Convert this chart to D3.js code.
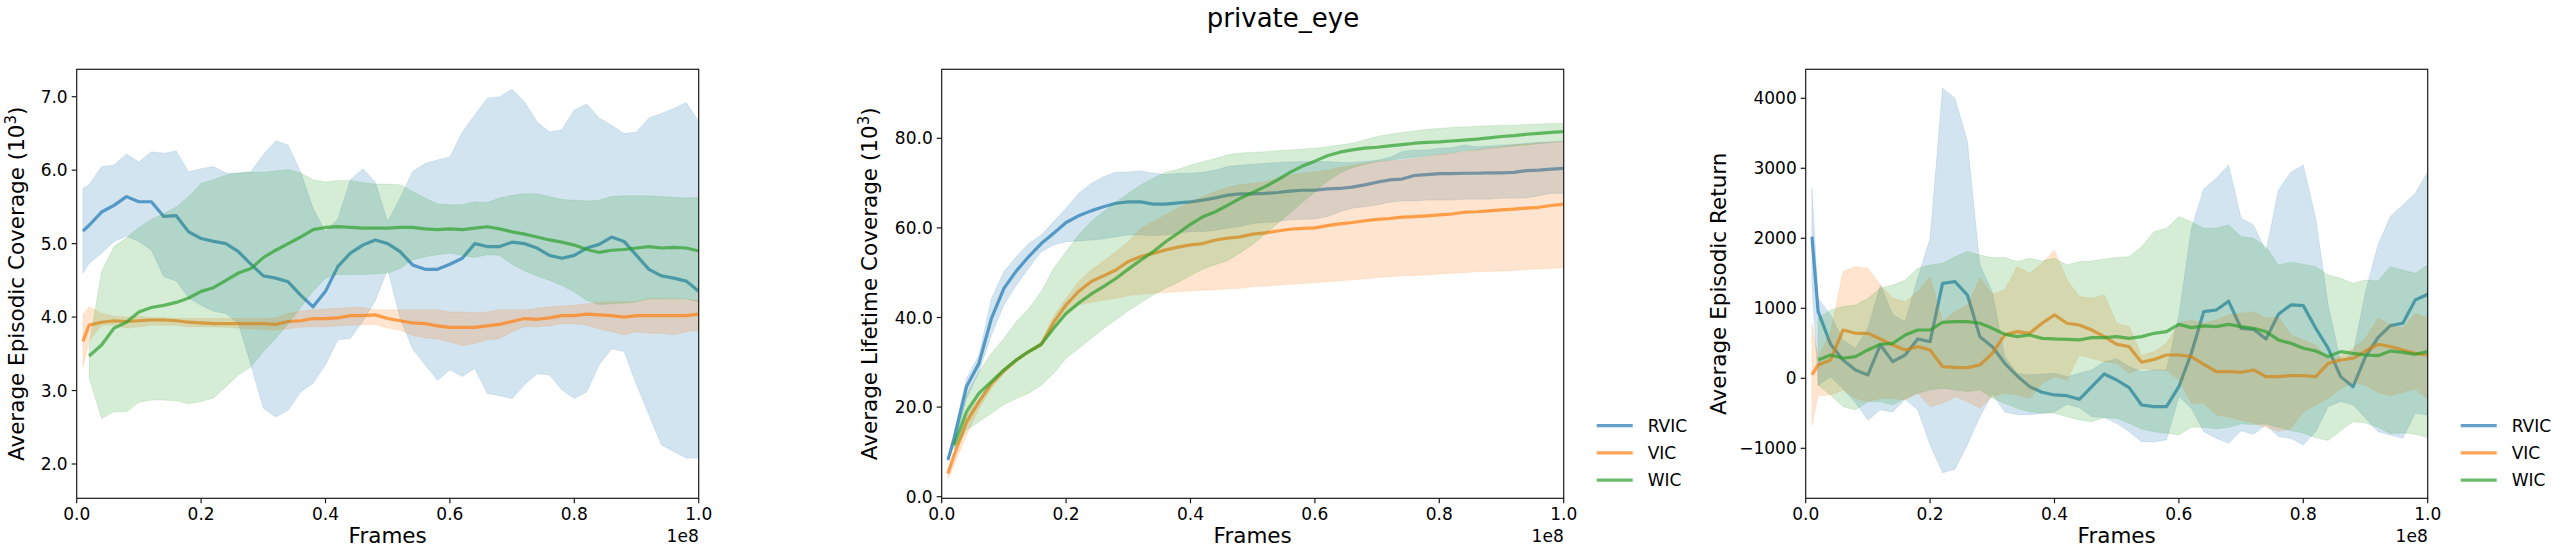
<!DOCTYPE html>
<html>
<head>
<meta charset="utf-8">
<script src="https://cdn.jsdelivr.net/npm/d3@7"></script>
<style>
  body { margin: 0; background: #fff; }
  text { font-family: "DejaVu Sans", sans-serif; fill: #000; }
</style>
</head>
<body>
<div id="chart"></div>
<script>
// frames, in units of 1e8
const frames = [0.01,0.02,0.04,0.06,0.08,0.10,0.12,0.14,0.16,0.18,0.20,0.22,0.24,0.26,0.28,0.30,0.32,0.34,0.36,0.38,
  0.40,0.42,0.44,0.46,0.48,0.50,0.52,0.54,0.56,0.58,0.60,0.62,0.64,0.66,0.68,0.70,0.72,0.74,0.76,0.78,
  0.80,0.82,0.84,0.86,0.88,0.90,0.92,0.94,0.96,0.98,1.00];

const algos = ["RVIC", "VIC", "WIC"];

// episodic coverage (10^3)
const epiRvic   = [5.17,5.25,5.43,5.52,5.64,5.57,5.57,5.37,5.38,5.16,5.07,5.03,5.00,4.89,4.72,4.56,4.53,4.48,4.30,4.14,4.35,4.69,4.87,4.98,5.05,5.00,4.89,4.71,4.65,4.65,4.72,4.80,5.00,4.96,4.96,5.02,5.00,4.94,4.84,4.80,4.84,4.94,4.99,5.09,5.03,4.84,4.65,4.56,4.53,4.49,4.35];
const epiRvicHi = [5.75,5.80,6.05,6.07,6.22,6.11,6.25,6.23,6.26,5.98,6.02,6.05,5.96,5.96,5.98,6.21,6.40,6.34,5.98,5.48,5.16,5.34,5.87,6.02,5.84,5.30,5.62,5.98,6.09,6.14,6.18,6.52,6.75,6.98,7.00,7.10,6.93,6.66,6.52,6.55,6.82,6.90,6.71,6.61,6.50,6.52,6.71,6.77,6.84,6.92,6.66];
const epiRvicLo = [4.60,4.73,4.87,5.03,5.10,5.03,4.91,4.55,4.49,4.26,4.16,4.08,4.05,3.91,3.35,2.76,2.64,2.73,2.98,3.10,3.35,3.69,3.71,3.94,4.22,4.65,3.98,3.57,3.35,3.14,3.28,3.19,3.30,2.96,2.93,2.89,3.08,3.23,3.21,3.01,2.89,2.98,3.35,3.57,3.53,3.08,2.67,2.26,2.17,2.08,2.08];
const epiVic    = [3.67,3.89,3.93,3.95,3.94,3.95,3.96,3.96,3.95,3.93,3.92,3.91,3.91,3.91,3.91,3.91,3.90,3.94,3.95,3.98,3.98,3.99,4.02,4.02,4.03,3.98,3.95,3.92,3.91,3.88,3.86,3.86,3.86,3.88,3.90,3.94,3.98,3.97,3.99,4.02,4.02,4.04,4.03,4.02,4.00,4.02,4.02,4.02,4.02,4.02,4.04];
const epiVicHi  = [4.04,4.14,4.05,4.01,4.00,4.01,3.99,3.99,3.98,3.98,3.98,3.98,3.98,3.98,3.98,3.98,3.99,4.05,4.08,4.10,4.11,4.12,4.13,4.13,4.10,4.10,4.10,4.10,4.10,4.10,4.07,4.07,4.06,4.07,4.10,4.10,4.10,4.12,4.14,4.15,4.16,4.18,4.20,4.21,4.21,4.21,4.25,4.25,4.25,4.24,4.23];
const epiVicLo  = [3.32,3.67,3.89,3.89,3.85,3.87,3.89,3.89,3.89,3.87,3.87,3.87,3.86,3.85,3.84,3.83,3.82,3.84,3.86,3.87,3.87,3.88,3.89,3.90,3.90,3.85,3.82,3.75,3.72,3.70,3.66,3.61,3.64,3.69,3.71,3.80,3.87,3.87,3.88,3.91,3.91,3.89,3.84,3.80,3.76,3.80,3.78,3.78,3.76,3.80,3.82];
const epiWic    = [null,3.47,3.62,3.85,3.93,4.07,4.13,4.16,4.20,4.26,4.35,4.40,4.50,4.60,4.66,4.81,4.91,5.00,5.09,5.19,5.22,5.23,5.22,5.21,5.21,5.21,5.22,5.22,5.20,5.19,5.20,5.19,5.21,5.23,5.20,5.16,5.13,5.09,5.05,5.02,4.98,4.92,4.88,4.91,4.92,4.94,4.96,4.94,4.95,4.94,4.90];
const epiWicHi  = [null,3.62,4.62,4.96,5.08,5.22,5.33,5.41,5.50,5.64,5.82,5.87,5.93,5.96,5.97,5.97,5.99,6.01,5.96,5.87,5.84,5.86,5.86,5.83,5.81,5.81,5.80,5.71,5.62,5.54,5.53,5.53,5.57,5.56,5.62,5.66,5.68,5.68,5.64,5.60,5.59,5.58,5.59,5.64,5.65,5.65,5.65,5.64,5.63,5.62,5.63];
const epiWicLo  = [null,3.17,2.62,2.71,2.71,2.84,2.87,2.87,2.86,2.82,2.85,2.90,3.05,3.21,3.32,3.53,3.71,3.91,4.13,4.35,4.53,4.58,4.58,4.58,4.59,4.60,4.66,4.78,4.82,4.85,4.87,4.84,4.81,4.85,4.84,4.72,4.63,4.56,4.50,4.43,4.34,4.23,4.17,4.18,4.19,4.21,4.25,4.25,4.25,4.25,4.21];

// lifetime coverage (10^3)
const lifeRvic   = [8.2,13.0,24.6,29.8,39.8,46.5,50.4,53.6,56.5,58.8,61.2,62.7,63.8,64.7,65.5,65.8,65.8,65.3,65.3,65.6,65.8,66.2,66.7,67.3,67.6,67.6,67.7,67.9,68.2,68.4,68.4,68.7,68.8,69.1,69.6,70.2,70.7,70.9,71.7,71.9,72.1,72.1,72.2,72.2,72.3,72.3,72.4,72.8,72.9,73.1,73.3];
const lifeRvicHi = [8.5,14.5,26.4,31.6,44.3,50.2,53.6,56.5,58.4,61.4,64.4,67.7,69.9,71.4,72.4,72.5,72.7,72.2,71.9,72.2,72.2,72.4,72.9,73.7,74.0,74.2,74.4,74.6,74.7,74.8,74.8,74.8,74.6,74.6,74.8,75.1,75.7,77.0,77.4,77.4,77.8,77.9,78.5,78.1,78.3,78.5,78.6,78.9,79.1,79.2,79.4];
const lifeRvicLo = [8.0,11.5,21.9,27.9,36.1,42.8,47.2,51.0,54.7,56.2,56.9,57.1,57.3,57.5,58.0,58.4,58.4,58.3,58.4,58.8,59.2,59.2,59.5,59.9,60.3,61.0,61.2,61.4,61.8,61.9,62.0,62.5,63.6,64.4,64.7,65.1,65.7,66.0,66.0,66.2,66.2,66.2,66.4,66.4,66.4,66.6,66.6,66.7,67.2,67.7,67.7];
const lifeVic    = [5.2,9.3,16.7,21.2,25.3,28.1,30.5,32.4,34.0,38.9,42.8,45.8,48.0,49.3,50.6,52.5,53.6,54.3,55.1,55.7,56.2,56.5,57.3,57.7,58.0,58.6,58.9,59.3,59.7,59.9,60.0,60.5,60.9,61.2,61.6,61.9,62.1,62.4,62.5,62.7,62.9,63.1,63.5,63.6,63.8,64.0,64.2,64.4,64.6,65.0,65.3];
const lifeVicHi  = [6.0,10.0,18.2,21.9,25.7,28.7,30.9,32.7,34.6,40.2,44.3,48.0,50.6,52.5,54.7,56.9,59.9,61.4,62.9,64.4,65.7,67.0,68.1,69.0,69.7,69.9,70.3,71.1,71.8,72.2,72.5,72.9,73.5,74.0,74.4,74.8,75.0,75.1,75.5,75.9,76.3,76.6,77.0,77.4,77.8,78.1,78.5,78.7,78.9,79.1,79.2];
const lifeVicLo  = [4.1,7.1,13.8,19.7,24.2,27.5,30.1,32.0,33.5,37.6,40.6,42.8,43.4,43.9,44.3,44.9,45.2,45.4,45.6,45.8,45.9,46.1,46.2,46.4,46.5,46.9,47.0,47.2,47.4,47.6,47.8,48.0,48.2,48.4,48.6,48.9,49.1,49.3,49.4,49.5,49.7,49.9,50.0,50.2,50.3,50.4,50.5,50.7,50.8,51.0,51.1];
const lifeWic    = [null,11.5,19.0,23.1,25.7,28.3,30.5,32.4,34.0,37.6,40.9,43.2,45.2,46.9,48.7,50.8,52.8,54.7,56.9,58.8,60.8,62.5,63.6,65.1,66.6,67.9,69.2,70.7,72.4,73.8,74.9,76.1,76.9,77.4,77.8,78.0,78.3,78.6,78.9,79.1,79.2,79.4,79.6,79.8,80.1,80.4,80.6,80.9,81.1,81.3,81.5];
const lifeWicHi  = [null,12.0,22.7,27.9,32.0,35.3,39.1,42.0,45.8,51.0,54.7,58.4,61.4,63.6,65.8,67.7,69.6,71.1,72.4,73.1,74.0,74.8,75.5,76.3,76.7,76.9,77.0,77.2,77.4,77.6,77.8,78.1,78.5,78.9,79.6,80.4,80.9,81.3,81.6,82.0,82.2,82.4,82.5,82.7,82.8,82.9,82.9,83.1,83.2,83.3,83.3];
const lifeWicLo  = [null,10.5,14.9,16.7,18.6,20.5,21.9,23.1,24.9,27.5,30.9,33.0,35.3,37.5,39.5,41.5,43.3,45.0,46.5,47.8,49.3,50.8,51.8,52.7,54.4,56.3,58.6,61.0,63.3,65.7,68.0,70.4,72.2,73.4,74.2,74.8,75.1,75.5,75.8,76.1,76.4,76.7,77.2,77.4,77.8,78.0,78.3,78.5,78.8,79.1,79.4];

// episodic return
const retRvic   = [2024,952,486,262,119,48,476,238,333,562,524,1357,1381,1190,595,452,214,33,-119,-200,-238,-248,-300,-119,62,-24,-133,-381,-405,-405,-119,357,952,976,1100,714,700,560,914,1048,1038,714,429,24,-120,310,581,752,786,1119,1200];
const retRvicHi = [2714,1143,905,548,429,714,1333,905,810,1429,2000,4143,4000,3381,1619,1238,310,71,48,62,71,24,71,119,238,280,167,95,119,119,905,2143,2705,2857,3048,2286,2190,1810,2690,2943,3048,2286,1048,238,357,1238,1905,2310,2476,2643,2952];
const retRvicLo = [1333,-100,20,-150,-350,-600,-450,-480,-300,-450,-950,-1350,-1300,-950,-550,-220,-480,-520,-520,-500,-480,-370,-420,-550,-560,-643,-762,-905,-905,-881,-262,-429,-762,-857,-929,-748,-800,-667,-833,-857,-952,-762,-405,-333,-381,-571,-762,-810,-857,-500,-524];
const retVic    = [48,190,262,690,643,643,562,476,405,452,405,167,157,152,190,357,620,667,643,786,905,786,762,690,595,486,452,230,270,333,333,310,200,95,95,86,119,24,24,38,38,24,214,262,286,390,486,452,405,357,333];
const retVicHi  = [786,286,667,1524,1595,1571,1333,1143,1095,1238,1452,810,952,1048,1429,1200,1262,1595,1500,1643,1833,1405,1167,1143,1190,786,738,330,380,500,786,833,786,833,905,929,952,857,881,619,548,476,286,310,429,571,857,762,714,929,857];
const retVicLo  = [-667,-250,-238,-167,-286,-333,-286,-286,-310,-214,-405,-357,-262,-333,-429,-262,-214,-238,-286,-71,24,-24,333,286,238,214,71,143,119,119,-24,-357,-357,-524,-548,-600,-640,-700,-760,-720,-480,-380,-290,-150,-60,-100,-200,-250,-200,-150,-300];
const retWic    = [null,262,333,286,310,405,486,500,619,690,690,800,810,810,786,714,629,595,619,571,562,557,548,581,581,595,571,595,643,667,771,724,748,738,771,738,714,667,548,500,429,390,310,381,357,333,324,390,371,343,381];
const retWicHi  = [null,857,976,1024,1048,1143,1286,1333,1405,1571,1619,1643,1738,1810,1762,1724,1724,1667,1714,1676,1714,1619,1667,1676,1705,1724,1738,1881,2095,2143,2310,2238,2143,2143,2190,2024,2000,1881,1619,1657,1629,1595,1476,1429,1357,1405,1390,1595,1548,1500,1619];
const retWicLo  = [null,-100,-238,-405,-452,-333,-333,-381,-286,-214,-167,-143,-167,-190,-167,-286,-357,-429,-476,-500,-500,-548,-595,-619,-562,-571,-643,-724,-762,-786,-810,-700,-700,-720,-700,-650,-660,-650,-700,-750,-780,-850,-890,-750,-620,-640,-700,-790,-780,-800,-850];

const xTicks = [0, 0.2, 0.4, 0.6, 0.8, 1.0];

const colors = {RVIC: "#1f77b4", VIC: "#ff7f0e", WIC: "#2ca02c"};

const panels = [
  {left: 76.7, yDomain: [1.533, 7.373], yTicks: [2,3,4,5,6,7], fmt: d3.format(".1f"),
   label: "Average Episodic Coverage", pow: true, labelX: -53, legend: false,
   data: {RVIC: [epiRvic, epiRvicLo, epiRvicHi], VIC: [epiVic, epiVicLo, epiVicHi], WIC: [epiWic, epiWicLo, epiWicHi]}},
  {left: 941.7, yDomain: [-0.36, 95.4], yTicks: [0,20,40,60,80], fmt: d3.format(".1f"),
   label: "Average Lifetime Coverage", pow: true, labelX: -65, legend: true,
   data: {RVIC: [lifeRvic, lifeRvicLo, lifeRvicHi], VIC: [lifeVic, lifeVicLo, lifeVicHi], WIC: [lifeWic, lifeWicLo, lifeWicHi]}},
  {left: 1805.7, yDomain: [-1714, 4414], yTicks: [-1000,0,1000,2000,3000,4000], fmt: d3.format("d"),
   label: "Average Episodic Return", pow: false, labelX: -80, legend: true,
   data: {RVIC: [retRvic, retRvicLo, retRvicHi], VIC: [retVic, retVicLo, retVicHi], WIC: [retWic, retWicLo, retWicHi]}}
];

const W = 2566, H = 554;
const axTop = 69.3, w = 622, h = 429;

const svg = d3.select("#chart").append("svg")
  .attr("width", W)
  .attr("height", H);

svg.append("text")
  .attr("x", 1283).attr("y", 27)
  .attr("text-anchor", "middle")
  .style("font-size", "26px")
  .text("private_eye");

panels.forEach((p, i) => {
  const g = svg.append("g").attr("transform", `translate(${p.left},${axTop})`);
  const x = d3.scaleLinear().domain([0, 1]).range([0, w]);
  const y = d3.scaleLinear().domain(p.yDomain).range([h, 0]);

  g.append("clipPath").attr("id", "clip" + i)
    .append("rect").attr("width", w).attr("height", h);
  const plot = g.append("g").attr("clip-path", `url(#clip${i})`);

  algos.forEach(a => {
    const [mean, lo, hi] = p.data[a];
    const rows = frames.map((f, k) => ({f: f, m: mean[k], lo: lo[k], hi: hi[k]}));
    const line = d3.line()
      .defined(d => d.m != null)
      .x(d => x(d.f))
      .y(d => y(d.m));
    const area = d3.area()
      .defined(d => d.lo != null)
      .x(d => x(d.f))
      .y0(d => y(d.lo))
      .y1(d => y(d.hi));
    plot.append("path")
      .attr("d", line(rows))
      .attr("fill", "none")
      .attr("stroke", colors[a])
      .attr("stroke-opacity", 0.7)
      .attr("stroke-width", 3.2)
      .attr("stroke-linejoin", "round");
    plot.append("path")
      .attr("d", area(rows))
      .attr("fill", colors[a])
      .attr("fill-opacity", 0.2)
      .attr("stroke", colors[a])
      .attr("stroke-opacity", 0.12)
      .attr("stroke-width", 1);
  });

  // frame
  g.append("rect")
    .attr("width", w).attr("height", h)
    .attr("fill", "none")
    .attr("stroke", "#1a1a1a")
    .attr("stroke-width", 1.2);

  // x axis
  const xa = g.append("g").attr("transform", `translate(0,${h})`);
  xTicks.forEach(t => {
    xa.append("line").attr("x1", x(t)).attr("x2", x(t)).attr("y1", 0).attr("y2", 5)
      .attr("stroke", "#1a1a1a").attr("stroke-width", 1.2);
    xa.append("text").attr("x", x(t)).attr("y", 22)
      .attr("text-anchor", "middle").style("font-size", "17px")
      .text(d3.format(".1f")(t));
  });
  g.append("text").attr("x", w / 2).attr("y", h + 45)
    .attr("text-anchor", "middle").style("font-size", "21.5px")
    .text("Frames");
  g.append("text").attr("x", w).attr("y", h + 43.5)
    .attr("text-anchor", "end").style("font-size", "17px")
    .text("1e8");

  // y axis
  p.yTicks.forEach(t => {
    g.append("line").attr("x1", -5).attr("x2", 0).attr("y1", y(t)).attr("y2", y(t))
      .attr("stroke", "#1a1a1a").attr("stroke-width", 1.2);
    g.append("text").attr("x", -9).attr("y", y(t)).attr("dy", "0.36em")
      .attr("text-anchor", "end").style("font-size", "17px")
      .text(p.fmt(t));
  });

  const lab = g.append("text")
    .attr("transform", `translate(${p.labelX},${h / 2}) rotate(-90)`)
    .attr("text-anchor", "middle")
    .style("font-size", "21.5px");
  if (p.pow) {
    lab.append("tspan").text(p.label + " (10");
    lab.append("tspan").attr("dy", -8).style("font-size", "15px").text("3");
    lab.append("tspan").attr("dy", 8).text(")");
  } else {
    lab.text(p.label);
  }

  if (p.legend) {
    const lg = g.append("g").attr("transform", `translate(${w + 33},0)`);
    algos.forEach((a, k) => {
      const ly = 356.4 + k * 27.2;
      lg.append("line").attr("x1", 0).attr("x2", 36).attr("y1", ly).attr("y2", ly)
        .attr("stroke", colors[a]).attr("stroke-opacity", 0.7).attr("stroke-width", 3.2);
      lg.append("text").attr("x", 51).attr("y", ly).attr("dy", "0.36em")
        .style("font-size", "17px").text(a);
    });
  }
});
</script>
</body>
</html>
